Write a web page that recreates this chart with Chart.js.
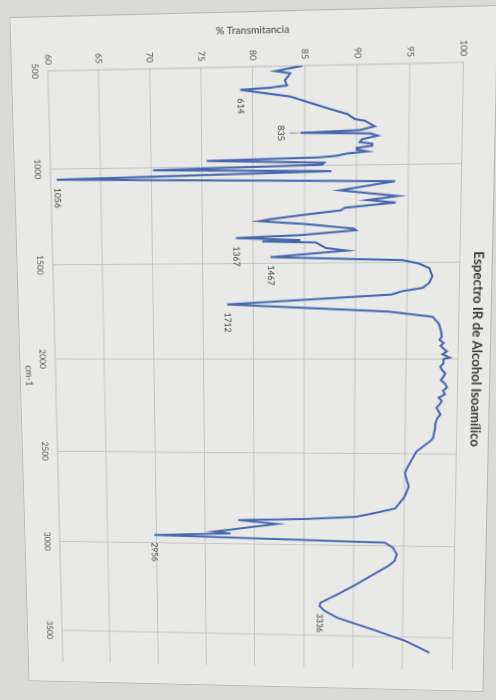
<!DOCTYPE html>
<html>
<head>
<meta charset="utf-8">
<script src="https://cdn.jsdelivr.net/npm/chart.js@4.4.1/dist/chart.umd.min.js"></script>
<style>
  html, body { margin: 0; padding: 0; }
  body { width: 496px; height: 700px; overflow: hidden; position: relative; background: #d9d9d7; }
  #grafico { position: absolute; left: 0; top: 0; transform-origin: 0 0; }
</style>
</head>
<body>
<canvas id="grafico" width="674" height="470"></canvas>
<script>
const wavenumbers = [
  500, 524, 536, 552, 570, 596, 606, 614, 652, 714, 745, 770, 780, 808, 826, 835, 843, 855,
  872, 886, 895, 905, 915, 923, 933, 943, 953, 960, 970, 987, 997, 1014, 1030, 1056, 1085,
  1128, 1160, 1179, 1193, 1217, 1230, 1253, 1272, 1281, 1299, 1324, 1332, 1355, 1367, 1380,
  1386, 1393, 1422, 1436, 1467, 1487, 1505, 1529, 1571, 1605, 1630, 1647, 1664, 1712, 1752,
  1780, 1816, 1849, 1883, 1900, 1916, 1930, 1950, 1960, 1975, 1992, 2000, 2022, 2040, 2058, 2075,
  2094, 2110, 2130, 2148, 2166, 2185, 2202, 2220, 2238, 2255, 2274, 2290, 2310, 2340, 2364, 2418,
  2434, 2489, 2568, 2604, 2677, 2732, 2795, 2820, 2843, 2858, 2868, 2887, 2933, 2942, 2956,
  2982, 3008, 3044, 3080, 3108, 3163, 3219, 3273, 3318, 3336, 3362, 3400, 3460, 3522, 3584
];
const transmittance = [
  84.8, 82.2, 83.6, 83.4, 83.1, 83.3, 81.7, 78.8, 83.6, 87.2, 89.1, 89.8, 90.8, 91.7, 90.3, 84.6, 91.3, 92.0,
  90.5, 90.3, 91.5, 91.5, 90.0, 90.0, 91.0, 89.0, 88.1, 86.4, 75.5, 86.9, 86.7, 70.2, 87.6, 60.6, 93.7,
  88.4, 94.0, 91.1, 93.8, 88.9, 88.5, 84.6, 81.6, 80.6, 85.3, 89.8, 90.0, 84.5, 78.3, 84.6,
  80.9, 86.1, 87.1, 89.1, 81.7, 94.5, 96.1, 97.1, 97.4, 97.1, 96.5, 94.5, 93.5, 77.4, 93.2,
  97.5, 98.1, 98.3, 98.4, 98.2, 98.6, 98.3, 98.7, 98.9, 98.5, 99.2, 98.6, 98.6, 98.3, 98.5, 98.8,
  98.6, 98.4, 98.8, 99.0, 98.6, 98.8, 98.2, 98.5, 98.3, 98.0, 98.2, 98.4, 98.1, 97.9, 97.9, 97.7,
  97.4, 96.1, 95.3, 95.0, 95.4, 95.0, 94.1, 92.2, 90.2, 85.2, 78.4, 82.3, 75.9, 77.6, 69.8,
  93.1, 93.9, 94.3, 94.1, 93.5, 91.8, 90.1, 88.3, 86.7, 86.6, 87.1, 88.4, 91.9, 95.3, 97.7
];
const xTicks = [500, 1000, 1500, 2000, 2500, 3000, 3500];
const yTicks = [60, 65, 70, 75, 80, 85, 90, 95, 100];
const peakWn = [614, 835, 1056, 1367, 1467, 1712, 2956, 3336];
const labelsBelow = [835];

// la foto: esquinas del área de trazado (cm-1, %T) -> pixel de la foto
const cornerValues = [[500, 60], [500, 100], [3500, 60], [3500, 100]];
const cornerPhoto = [[48, 71], [463.4, 62.4], [62, 630.2], [452.8, 638]];

const fondo = {
  id: "fondo",
  beforeDraw(chart) {
    const { ctx, width, height } = chart;
    ctx.save();
    ctx.fillStyle = "#e9e9e7";
    ctx.fillRect(0, 0, width, height);
    ctx.strokeStyle = "#b9b9b7";
    ctx.lineWidth = 1;
    ctx.strokeRect(0.5, 0.5, width - 1, height - 1);
    ctx.restore();
  },
};

const etiquetas = {
  id: "etiquetas",
  afterDatasetsDraw(chart) {
    const { ctx } = chart;
    const x = chart.scales.x;
    const y = chart.scales.y;
    ctx.save();
    ctx.font = "8.5px Lato";
    ctx.fillStyle = "#404040";
    ctx.textBaseline = "middle";
    peakWn.forEach((w) => {
      const i = wavenumbers.indexOf(w);
      const px = x.getPixelForValue(w);
      const py = y.getPixelForValue(transmittance[i]);
      if (labelsBelow.includes(w)) {
        ctx.strokeStyle = "#8a8a8a";
        ctx.lineWidth = 0.8;
        ctx.beginPath();
        ctx.moveTo(px, py + 1);
        ctx.lineTo(px, py + 11);
        ctx.stroke();
        ctx.textAlign = "center";
        ctx.fillText(String(w), px, py + 19);
      } else {
        ctx.textAlign = "left";
        ctx.fillText(String(w), px + 8, py);
      }
    });
    ctx.restore();
  },
};

const grafico = new Chart(document.getElementById("grafico"), {
  type: "scatter",
  data: {
    datasets: [
      {
        label: "Espectro",
        data: wavenumbers.map((w, i) => ({ x: w, y: transmittance[i] })),
        showLine: true,
        borderColor: "#4866ad",
        borderWidth: 2,
        pointRadius: 0,
        tension: 0,
      },
    ],
  },
  options: {
    responsive: false,
    animation: false,
    devicePixelRatio: 2,
    layout: { padding: { left: 0, top: 0, right: 22, bottom: 0 } },
    scales: {
      x: {
        type: "linear",
        min: 500,
        max: 3680,
        afterBuildTicks: (s) => { s.ticks = xTicks.map((v) => ({ value: v })); },
        afterFit: (s) => { s.height = 37; },
        ticks: {
          font: { family: "Lato", size: 8.5 },
          color: "#555",
          padding: 8,
          maxRotation: 0,
          callback: (v) => String(v),
        },
        grid: { color: "#c6c6c4", drawTicks: false },
        border: { color: "#bdbdbb" },
        title: { display: true, text: "cm-1", font: { family: "Lato", size: 9.5 }, color: "#444", padding: { top: 0, bottom: 4 } },
      },
      y: {
        min: 60,
        max: 100,
        afterBuildTicks: (s) => { s.ticks = yTicks.map((v) => ({ value: v })); },
        afterFit: (s) => { s.width = 52; },
        ticks: { font: { family: "Lato", size: 8.5 }, color: "#555", padding: 6, callback: (v) => String(v) },
        grid: { color: "#c6c6c4", drawTicks: false },
        border: { color: "#bdbdbb" },
        title: { display: true, text: "% Transmitancia", font: { family: "Lato", size: 10 }, color: "#444", padding: { top: 12, bottom: 0 } },
      },
    },
    plugins: {
      legend: { display: false },
      tooltip: { enabled: false },
      title: {
        display: true,
        text: "Espectro IR de Alcohol Isoamílico",
        font: { family: "Lato", size: 13, weight: "bold" },
        color: "#3a3a3a",
        padding: { top: 6, bottom: 10 },
      },
    },
  },
  plugins: [fondo, etiquetas],
});

// la foto está girada y en perspectiva: homografía del lienzo a la foto
function homografia(src, dst) {
  const A = [];
  const b = [];
  for (let i = 0; i < 4; i++) {
    const [x, y] = src[i];
    const [X, Y] = dst[i];
    A.push([x, y, 1, 0, 0, 0, -x * X, -y * X]);
    b.push(X);
    A.push([0, 0, 0, x, y, 1, -x * Y, -y * Y]);
    b.push(Y);
  }
  const n = 8;
  for (let c = 0; c < n; c++) {
    let p = c;
    for (let r = c + 1; r < n; r++) if (Math.abs(A[r][c]) > Math.abs(A[p][c])) p = r;
    [A[c], A[p]] = [A[p], A[c]];
    [b[c], b[p]] = [b[p], b[c]];
    for (let r = c + 1; r < n; r++) {
      const f = A[r][c] / A[c][c];
      for (let k = c; k < n; k++) A[r][k] -= f * A[c][k];
      b[r] -= f * b[c];
    }
  }
  const h = new Array(n).fill(0);
  for (let r = n - 1; r >= 0; r--) {
    let s = b[r];
    for (let k = r + 1; k < n; k++) s -= A[r][k] * h[k];
    h[r] = s / A[r][r];
  }
  return h;
}

const src = cornerValues.map(([w, t]) => [grafico.scales.x.getPixelForValue(w), grafico.scales.y.getPixelForValue(t)]);
const h = homografia(src, cornerPhoto);
grafico.canvas.style.transform =
  `matrix3d(${h[0]},${h[3]},0,${h[6]},${h[1]},${h[4]},0,${h[7]},0,0,1,0,${h[2]},${h[5]},0,1)`;
</script>
</body>
</html>
